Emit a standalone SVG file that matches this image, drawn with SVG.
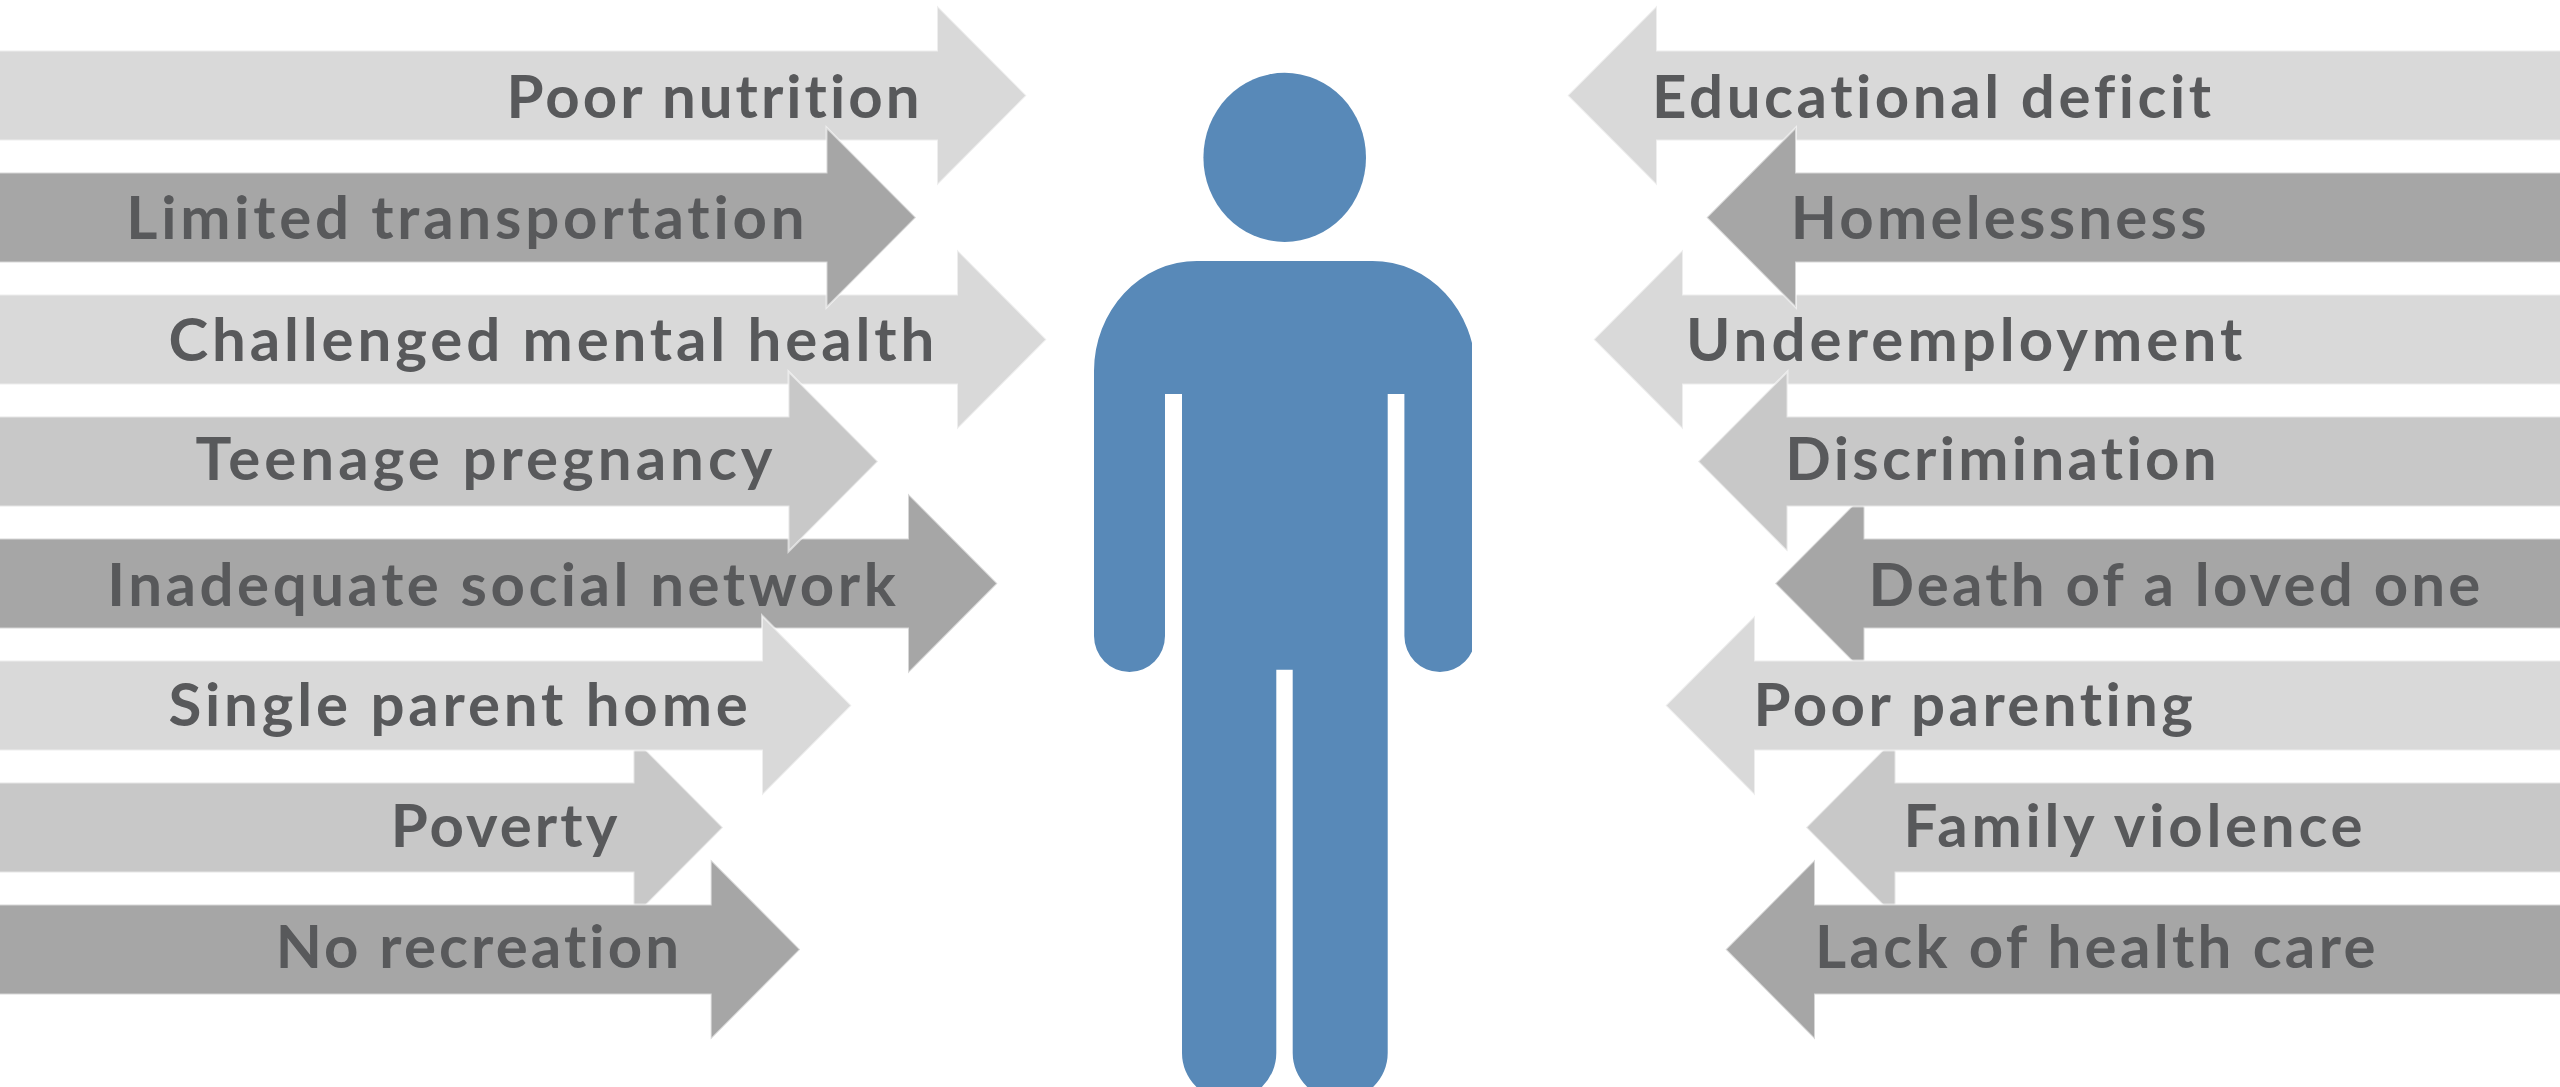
<svg xmlns="http://www.w3.org/2000/svg" width="2560" height="1087" viewBox="0 0 2560 1087">
<defs>
<style>
.lt{fill:#D9D9D9}
.md{fill:#C8C8C8}
.dk{fill:#A6A6A6}
.ar{stroke:#FFFFFF;stroke-opacity:0.55;stroke-width:2}
.tx{font-family:Lato,"Liberation Sans",sans-serif;font-weight:700;font-size:60px;fill:#58595B;font-variant-ligatures:none;font-feature-settings:"liga" 0,"clig" 0}
.fig{fill:#5889B8}
</style>
<clipPath id="figclip"><rect x="0" y="72" width="1472" height="1015"/></clipPath>
</defs>
<rect x="0" y="0" width="2560" height="1087" fill="#FFFFFF"/>

<g id="figure" clip-path="url(#figclip)">
<ellipse class="fig" cx="1284.7" cy="157.4" rx="81.3" ry="84.6"/>
<path class="fig" d="M 1094 371 A 103 110 0 0 1 1197 261 L 1372.4 261 A 103 110 0 0 1 1475.4 371 L 1475.4 636 A 35.5 36 0 0 1 1404.4 636 L 1404.4 394 L 1387.7 394 L 1387.7 1053 A 47.5 47 0 0 1 1292.7 1053 L 1292.7 669.7 L 1276.3 669.7 L 1276.3 1053 A 47.15 47 0 0 1 1182 1053 L 1182 394 L 1165 394 L 1165 636 A 35.5 36 0 0 1 1094 636 Z"/>
</g>

<g id="connectors"></g>

<!-- odd rows first (drawn below) -->
<g id="left-poor-nutrition">
<path class="lt ar" d="M -10 50.5 L 937 50.5 L 937 5.5 L 1026.5 95.5 L 937 185.5 L 937 140.5 L -10 140.5 Z"/>
<text class="tx" x="506.5" y="117.5" textLength="413" lengthAdjust="spacing">Poor nutrition</text>
</g>
<g id="left-challenged-mental-health">
<path class="lt ar" d="M -10 294.5 L 957 294.5 L 957 249.5 L 1046.5 339.5 L 957 429.5 L 957 384.5 L -10 384.5 Z"/>
<text class="tx" x="168.4" y="361" textLength="766" lengthAdjust="spacing">Challenged mental health</text>
</g>
<g id="left-inadequate-social-network">
<path class="dk ar" d="M -10 538.5 L 908 538.5 L 908 493.5 L 997.5 583.5 L 908 673.5 L 908 628.5 L -10 628.5 Z"/>
<text class="tx" x="107.3" y="606" textLength="788.5" lengthAdjust="spacing">Inadequate social network</text>
</g>
<g id="left-poverty">
<path class="md ar" d="M -10 782.5 L 633.5 782.5 L 633.5 737.5 L 723 827.5 L 633.5 917.5 L 633.5 872.5 L -10 872.5 Z"/>
<text class="tx" x="390.7" y="847.2" textLength="226.6" lengthAdjust="spacing">Poverty</text>
</g>

<g id="right-educational-deficit">
<path class="lt ar" d="M 2570 50.5 L 1657 50.5 L 1657 5.5 L 1567.5 95.5 L 1657 185.5 L 1657 140.5 L 2570 140.5 Z"/>
<text class="tx" x="1652.1" y="117.5" textLength="559" lengthAdjust="spacing">Educational deficit</text>
</g>
<g id="right-underemployment">
<path class="lt ar" d="M 2570 294.5 L 1683 294.5 L 1683 249.5 L 1593.5 339.5 L 1683 429.5 L 1683 384.5 L 2570 384.5 Z"/>
<text class="tx" x="1685.9" y="361" textLength="556.4" lengthAdjust="spacing">Underemployment</text>
</g>
<g id="right-death-of-a-loved-one">
<path class="dk ar" d="M 2570 538.5 L 1864.5 538.5 L 1864.5 493.5 L 1775 583.5 L 1864.5 673.5 L 1864.5 628.5 L 2570 628.5 Z"/>
<text class="tx" x="1868.4" y="606" textLength="611.9" lengthAdjust="spacing">Death of a loved one</text>
</g>
<g id="right-family-violence">
<path class="md ar" d="M 2570 782.5 L 1895.5 782.5 L 1895.5 737.5 L 1806 827.5 L 1895.5 917.5 L 1895.5 872.5 L 2570 872.5 Z"/>
<text class="tx" x="1903.6" y="847.2" textLength="459" lengthAdjust="spacing">Family violence</text>
</g>

<!-- even rows (drawn on top) -->
<g id="left-limited-transportation">
<path class="dk ar" d="M -10 172.5 L 826.5 172.5 L 826.5 127.5 L 916 217.5 L 826.5 307.5 L 826.5 262.5 L -10 262.5 Z"/>
<text class="tx" x="126.3" y="238.5" textLength="678.3" lengthAdjust="spacing">Limited transportation</text>
</g>
<g id="left-teenage-pregnancy">
<path class="md ar" d="M -10 416.5 L 788.5 416.5 L 788.5 371.5 L 878 461.5 L 788.5 551.5 L 788.5 506.5 L -10 506.5 Z"/>
<text class="tx" x="195.5" y="480" textLength="577" lengthAdjust="spacing">Teenage pregnancy</text>
</g>
<g id="left-single-parent-home">
<path class="lt ar" d="M -10 660.5 L 762 660.5 L 762 615.5 L 851.5 705.5 L 762 795.5 L 762 750.5 L -10 750.5 Z"/>
<text class="tx" x="168.4" y="726.4" textLength="579.4" lengthAdjust="spacing">Single parent home</text>
</g>
<g id="left-no-recreation">
<path class="dk ar" d="M -10 904.5 L 710.7 904.5 L 710.7 859.5 L 800.2 949.5 L 710.7 1039.5 L 710.7 994.5 L -10 994.5 Z"/>
<text class="tx" x="275.7" y="968" textLength="403.4" lengthAdjust="spacing">No recreation</text>
</g>

<g id="right-homelessness">
<path class="dk ar" d="M 2570 172.5 L 1796 172.5 L 1796 127.5 L 1706.5 217.5 L 1796 307.5 L 1796 262.5 L 2570 262.5 Z"/>
<text class="tx" x="1790.7" y="238.5" textLength="415.8" lengthAdjust="spacing">Homelessness</text>
</g>
<g id="right-discrimination">
<path class="md ar" d="M 2570 416.5 L 1787.5 416.5 L 1787.5 371.5 L 1698 461.5 L 1787.5 551.5 L 1787.5 506.5 L 2570 506.5 Z"/>
<text class="tx" x="1785.3" y="480" textLength="431.3" lengthAdjust="spacing">Discrimination</text>
</g>
<g id="right-poor-parenting">
<path class="lt ar" d="M 2570 660.5 L 1755 660.5 L 1755 615.5 L 1665.5 705.5 L 1755 795.5 L 1755 750.5 L 2570 750.5 Z"/>
<text class="tx" x="1753.5" y="726.4" textLength="439.5" lengthAdjust="spacing">Poor parenting</text>
</g>
<g id="right-lack-of-health-care">
<path class="dk ar" d="M 2570 904.5 L 1815 904.5 L 1815 859.5 L 1725.5 949.5 L 1815 1039.5 L 1815 994.5 L 2570 994.5 Z"/>
<text class="tx" x="1815" y="968" textLength="560.5" lengthAdjust="spacing">Lack of health care</text>
</g>
</svg>
